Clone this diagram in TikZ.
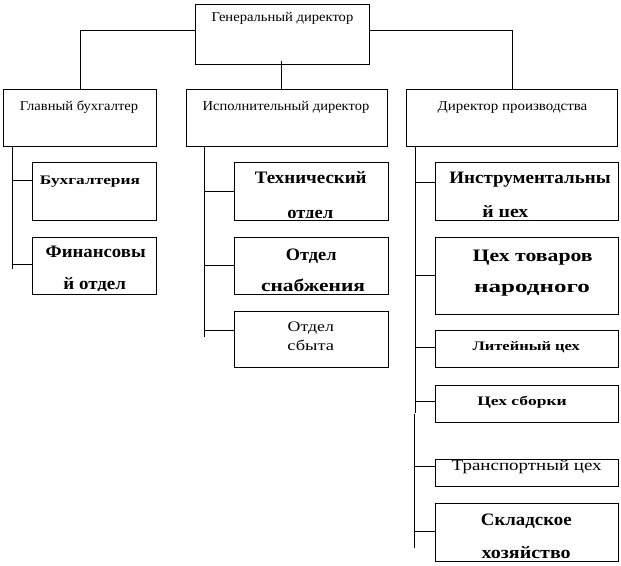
\documentclass[tikz,border=0pt]{standalone}
\usepackage{graphicx}
\usepackage{fontspec}
\setmainfont{Liberation Serif}
\newcommand{\fitw}[2]{\resizebox{#1pt}{\height}{#2}}
\begin{document}
\begin{tikzpicture}[x=1pt,y=-1pt,
  box/.style={draw, line width=1pt, inner sep=0pt, outer sep=0pt, anchor=north west},
  conn/.style={line width=1pt},
  reg/.style={anchor=base, inner sep=0pt, font=\fontsize{13.5}{13.5}\selectfont},
  bsmall/.style={anchor=base, inner sep=0pt, font=\bfseries\fontsize{13}{13}\selectfont},
  bbig/.style={anchor=base, inner sep=0pt, font=\bfseries\fontsize{17.5}{17.5}\selectfont},
  rmid/.style={anchor=base, inner sep=0pt, font=\fontsize{14.5}{14.5}\selectfont},
  rbig/.style={anchor=base, inner sep=0pt, font=\fontsize{15.5}{15.5}\selectfont}]
\useasboundingbox[fill=white] (0,0) rectangle (621,565);

% boxes
\node[box, minimum width=174pt, minimum height=60pt] (gen) at (195,4) {};
\node[box, minimum width=153pt, minimum height=56.5pt] (glav) at (3.5,89.5) {};
\node[box, minimum width=201pt, minimum height=56.5pt] (isp) at (186.5,89.5) {};
\node[box, minimum width=211pt, minimum height=56.5pt] (dir) at (406.5,89.5) {};
\node[box, minimum width=124pt, minimum height=57.5pt] (buh) at (32.5,162.5) {};
\node[box, minimum width=124pt, minimum height=56.5pt] (fin) at (32.5,237.5) {};
\node[box, minimum width=153.5pt, minimum height=57.5pt] (tech) at (234.5,162.5) {};
\node[box, minimum width=153.5pt, minimum height=56.5pt] (snab) at (234.5,237.5) {};
\node[box, minimum width=153.5pt, minimum height=56.5pt] (sbyt) at (234.5,311) {};
\node[box, minimum width=183pt, minimum height=57.5pt] (instr) at (435,162.5) {};
\node[box, minimum width=183pt, minimum height=76.5pt] (tov) at (435,237.5) {};
\node[box, minimum width=183pt, minimum height=37.7pt] (lit) at (435,330) {};
\node[box, minimum width=183pt, minimum height=36.6pt] (sbor) at (435,385.7) {};
\node[box, minimum width=183pt, minimum height=27.4pt] (trans) at (435,459.3) {};
\node[box, minimum width=183pt, minimum height=57.7pt] (sklad) at (435,503.3) {};

% top connectors
\coordinate (jl) at (79.3,30);
\coordinate (jr) at (511,30);
\draw[conn] (gen.west |- jl) -| (glav.north);
\draw[conn] (gen.east |- jr) -| (dir.north);
\coordinate (gc) at (281.3,61);
\draw[conn] (gc) -- (gc |- isp.north);

% left spine
\coordinate (ls) at (12.7,146);
\coordinate (le) at (12.7,269.3);
\draw[conn] (ls) -- (le);
\coordinate (lb1) at (12.7,180.3);
\coordinate (lb2) at (12.7,264.5);
\draw[conn] (lb1) -- (lb1 -| buh.west);
\draw[conn] (lb2) -- (lb2 -| fin.west);

% middle spine
\coordinate (ms) at (204.3,146);
\coordinate (me) at (204.3,336.7);
\draw[conn] (ms) -- (me);
\coordinate (mb1) at (204.3,191);
\coordinate (mb2) at (204.3,265.7);
\coordinate (mb3) at (204.3,330.7);
\draw[conn] (mb1) -- (mb1 -| tech.west);
\draw[conn] (mb2) -- (mb2 -| snab.west);
\draw[conn] (mb3) -- (mb3 -| sbyt.west);

% right spine (two segments)
\coordinate (rs) at (415.7,146);
\coordinate (rm) at (415.7,413);
\coordinate (rs2) at (414.5,413.5);
\coordinate (re) at (414.5,547.5);
\draw[conn] (rs) -- (rm);
\draw[conn] (rs2) -- (re);
\coordinate (rb1) at (415.7,182.7);
\coordinate (rb2) at (415.7,275);
\coordinate (rb3) at (415.7,347.3);
\coordinate (rb4) at (415.7,401.3);
\coordinate (rb5) at (414.5,466);
\coordinate (rb6) at (414.5,531);
\draw[conn] (rb1) -- (rb1 -| instr.west);
\draw[conn] (rb2) -- (rb2 -| tov.west);
\draw[conn] (rb3) -- (rb3 -| lit.west);
\draw[conn] (rb4) -- (rb4 -| sbor.west);
\draw[conn] (rb5) -- (rb5 -| trans.west);
\draw[conn] (rb6) -- (rb6 -| sklad.west);

% texts
\node[reg] (tgen) at (282.5,21.7) {\fitw{141.6}{Генеральный директор}};
\node[reg] (tglav) at (79,110) {\fitw{118.3}{Главный бухгалтер}};
\node[reg] (tisp) at (286,110) {\fitw{166.6}{Исполнительный директор}};
\node[reg] (tdir) at (512.5,110) {\fitw{149.6}{Директор производства}};
\node[bsmall] (tbuh) at (90,184) {\fitw{100}{Бухгалтерия}};
\node[bbig] (tfin1) at (95.7,257.7) {\fitw{100}{Финансовы}};
\begin{scope}
  \clip (fin.north west) rectangle (156.5,290.5);
  \node[bbig] (tfin2) at (94.7,289.3) {\fitw{62.7}{й отдел}};
\end{scope}
\node[bbig] (ttech1) at (310.8,183.3) {\fitw{111.7}{Технический}};
\begin{scope}
  \clip (tech.north west) rectangle (388,217.3);
  \node[bbig] (ttech2) at (310.3,218) {\fitw{46}{отдел}};
\end{scope}
\node[bbig] (tsnab1) at (311.3,260) {\fitw{50.7}{Отдел}};
\node[bbig] (tsnab2) at (313,291.3) {\fitw{104}{снабжения}};
\node[rmid] (tsbyt1) at (310.8,331.7) {\fitw{46.3}{Отдел}};
\node[rmid] (tsbyt2) at (310.7,350) {\fitw{46.7}{сбыта}};
\node[bbig] (tinstr1) at (530,183.3) {\fitw{161.3}{Инструментальны}};
\begin{scope}
  \clip (instr.north west) rectangle (618,216.7);
  \node[bbig] (tinstr2) at (505.3,217) {\fitw{46}{й цех}};
\end{scope}
\node[bbig] (ttov1) at (532.7,261) {\fitw{120}{Цех товаров}};
\node[bbig] (ttov2) at (532,292.5) {\fitw{115.7}{народного}};
\node[bsmall] (tlit) at (526.3,350) {\fitw{107.3}{Литейный цех}};
\node[bsmall] (tsbor) at (522,405.5) {\fitw{89.4}{Цех сборки}};
\node[rbig] (ttrans) at (526.7,470) {\fitw{150}{Транспортный цех}};
\node[bbig] (tsklad1) at (526.3,525) {\fitw{90.7}{Складское}};
\begin{scope}
  \clip (sklad.north west) rectangle (618,559);
  \node[bbig] (tsklad2) at (526.2,558.5) {\fitw{89}{хозяйство}};
\end{scope}
\end{tikzpicture}
\end{document}
